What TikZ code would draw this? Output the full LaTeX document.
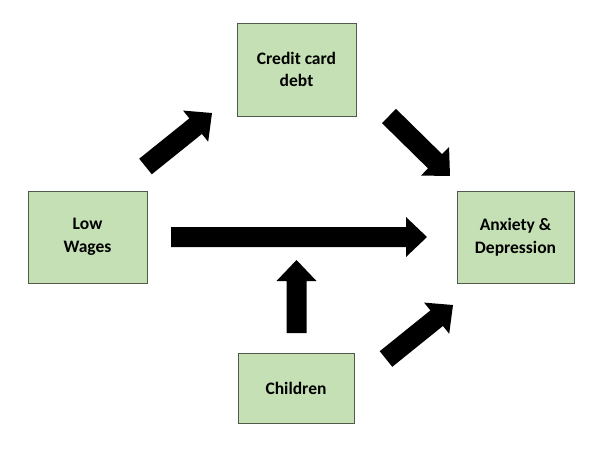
\documentclass[tikz,border=0pt]{standalone}
\usepackage{fontspec}
\setmainfont{Carlito}
\usetikzlibrary{calc}
\definecolor{boxfill}{RGB}{197,224,180}
\definecolor{boxline}{RGB}{80,90,75}
\tikzset{
  box/.style={draw=boxline, line width=0.8pt, fill=boxfill, align=center,
    font=\fontsize{17.5}{22.5}\selectfont\bfseries, inner sep=0pt},
  arrowfill/.style={fill=black}
}
\newcommand{\blockarr}[2]{%
  \coordinate (hb) at ($(#2)!21pt!(#1)$);
  \fill[arrowfill] ($(#1)!10pt!90:(#2)$) -- ($(hb)!10pt!-90:(#1)$) -- ($(hb)!20pt!-90:(#1)$)
    -- (#2) -- ($(hb)!20pt!90:(#1)$) -- ($(hb)!10pt!90:(#1)$) -- ($(#1)!10pt!-90:(#2)$) -- cycle;
}
\begin{document}
\begin{tikzpicture}[x=1pt,y=-1pt]
\useasboundingbox (0,0) rectangle (606,448);
\fill[white] (0,0) rectangle (606,448);
\node[box, minimum width=119pt, minimum height=93pt] (cc) at (296.5,69.5) {Credit card\\debt};
\node[box, minimum width=119pt, minimum height=92pt] (lw) at (87.5,237) {Low\\Wages};
\node[box, minimum width=117pt, minimum height=92pt] (ad) at (515.5,237) {Anxiety \&\\Depression};
\node[box, minimum width=116pt, minimum height=70pt] (ch) at (296,388) {Children};
% arrow end points
\coordinate (a1s) at (145.5,166.5); \coordinate (a1e) at (212,113);
\coordinate (a2s) at (389,116);     \coordinate (a2e) at (450,176);
\coordinate (a3s) at (171,237);     \coordinate (a3e) at (427,237);
\coordinate (a4s) at (296.5,333);   \coordinate (a4e) at (296.5,260);
\coordinate (a5s) at (386,359);     \coordinate (a5e) at (453,305);
\blockarr{a1s}{a1e}
\blockarr{a2s}{a2e}
\blockarr{a3s}{a3e}
\blockarr{a4s}{a4e}
\blockarr{a5s}{a5e}
\end{tikzpicture}
\end{document}
